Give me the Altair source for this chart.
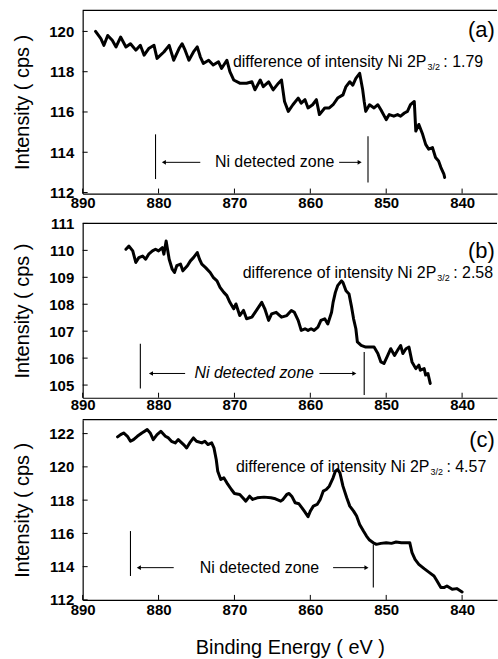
import altair as alt
import pandas as pd

FONT = "Liberation Sans"

# Binding energy axis (eV), drawn high -> low
X_TICKS = [890, 880, 870, 860, 850, 840]
X_RANGE = [835.4, 890]

# (a) spectrum
A_ENERGY = [888.3, 887.6, 887.2, 886.7, 886.1, 885.6, 885.0, 884.3, 883.7, 883.0,
            882.4, 881.9, 881.3, 880.6, 880.2, 879.3, 878.6, 878.0, 877.3, 876.9,
            876.5, 876.0, 875.4, 874.9, 874.5, 874.1, 873.4, 872.8, 872.1, 871.7,
            871.0, 870.6, 870.1, 869.3, 868.4, 867.7, 867.3, 866.6, 866.2, 865.5,
            864.9, 864.2, 863.8, 863.4, 862.9, 862.3, 861.6, 861.2, 860.7, 860.3,
            859.7, 859.2, 858.8, 858.1, 857.5, 857.0, 856.4, 855.7, 855.3, 854.8,
            854.4, 854.0, 853.5, 853.1, 852.9, 852.7, 852.2, 851.6, 851.1, 850.7,
            850.0, 849.6, 849.0, 848.5, 848.1, 847.6, 847.2, 846.8, 846.3, 846.1,
            845.7, 845.2, 844.8, 844.4, 843.9, 843.5, 843.1, 842.8, 842.4, 842.3]
A_INTENSITY = [120.0, 119.64, 119.31, 119.8, 119.56, 119.23, 119.72, 119.23, 119.39, 119.07,
               119.31, 118.82, 119.15, 119.31, 118.66, 118.98, 119.31, 118.57, 119.15, 119.39,
               119.07, 118.57, 118.98, 119.23, 118.74, 118.41, 118.57, 118.33, 118.49, 118.16,
               118.57, 118.0, 117.59, 117.43, 117.43, 117.5, 117.1, 117.59, 117.26, 117.5,
               117.1, 117.43, 117.59, 116.52, 116.03, 116.36, 116.69, 116.44, 116.61, 116.2,
               116.36, 116.61, 115.87, 116.2, 116.2, 116.36, 116.69, 116.85, 117.26, 117.5,
               117.33, 117.67, 117.92, 117.1, 116.52, 116.03, 116.36, 116.2, 116.36, 116.11,
               115.62, 115.87, 115.79, 115.87, 115.79, 115.95, 116.03, 116.36, 116.52, 115.05,
               115.38, 114.89, 114.39, 114.15, 114.23, 113.74, 113.57, 113.25, 112.92, 112.75]

# (b) spectrum
B_ENERGY = [884.3, 883.9, 883.4, 883.0, 882.6, 882.1, 881.7, 881.3, 880.8, 880.4,
            880.0, 879.5, 879.3, 879.0, 878.6, 878.2, 877.9, 877.6, 877.1, 876.8,
            876.2, 875.8, 875.4, 874.9, 874.6, 874.3, 873.8, 873.2, 872.8, 872.3,
            871.9, 871.4, 871.0, 870.6, 870.1, 869.8, 869.3, 868.8, 868.4, 867.7,
            867.1, 866.4, 866.0, 865.5, 865.1, 864.5, 863.8, 863.1, 862.5, 862.1,
            861.6, 861.2, 860.7, 860.3, 859.9, 859.5, 859.0, 858.6, 858.1, 857.7,
            857.2, 857.0, 856.7, 856.4, 855.9, 855.7, 855.3, 854.9, 854.6, 854.3,
            854.0, 853.8, 853.3, 852.7, 852.0, 851.6, 851.1, 850.7, 850.3, 849.8,
            849.4, 848.9, 848.5, 848.1, 847.8, 847.4, 847.0, 846.6, 846.1, 845.7,
            845.5, 845.0, 844.8, 844.5, 844.2]
B_INTENSITY = [110.04, 110.16, 109.98, 109.55, 109.73, 109.79, 109.67, 109.86, 109.98, 110.04,
               109.98, 110.1, 109.86, 110.35, 109.67, 109.3, 109.18, 109.43, 109.49, 109.24,
               109.43, 109.61, 109.73, 109.92, 109.67, 109.49, 109.36, 109.18, 109.0, 108.87,
               108.63, 108.44, 108.32, 108.07, 107.83, 108.01, 107.58, 107.77, 107.46, 107.52,
               107.77, 108.07, 107.83, 107.4, 107.64, 107.7, 107.52, 107.58, 107.77, 107.7,
               107.4, 107.03, 107.09, 107.03, 107.09, 107.03, 107.15, 107.4, 107.46, 107.27,
               107.7, 108.07, 108.44, 108.69, 108.87, 108.81, 108.5, 108.38, 107.95, 107.46,
               107.09, 106.6, 106.47, 106.41, 106.41, 106.41, 106.17, 105.86, 105.8, 106.1,
               106.35, 106.1, 106.29, 106.47, 106.17, 106.35, 106.41, 105.86, 105.61, 105.74,
               105.55, 105.61, 105.37, 105.43, 105.06]

# (c) spectrum
C_ENERGY = [885.4, 885.0, 884.6, 884.1, 883.7, 883.3, 882.8, 882.2, 881.5, 881.1,
            880.7, 880.2, 879.7, 879.1, 878.7, 878.3, 877.8, 877.4, 876.7, 876.3,
            875.9, 875.4, 875.0, 874.3, 873.9, 873.5, 873.0, 872.7, 872.4, 872.2,
            871.8, 871.4, 871.0, 870.4, 870.0, 869.3, 868.9, 868.5, 868.0, 867.6,
            867.0, 866.1, 865.2, 864.6, 863.9, 863.6, 863.1, 862.8, 862.4, 862.0,
            861.5, 861.1, 860.7, 860.3, 860.0, 859.6, 859.1, 858.7, 858.3, 857.9,
            857.5, 857.0, 856.7, 856.4, 856.1, 855.7, 855.2, 854.8, 854.3, 853.9,
            853.5, 853.0, 852.6, 852.2, 851.7, 851.3, 850.7, 850.0, 849.3, 848.7,
            848.0, 847.4, 846.9, 846.6, 846.2, 845.7, 845.0, 844.3, 843.7, 843.3,
            842.8, 842.4, 842.0, 841.3, 840.7, 840.0]
C_INTENSITY = [121.8, 121.94, 122.04, 121.84, 121.54, 121.64, 121.84, 122.04, 122.24, 122.04,
               121.64, 121.94, 122.14, 121.84, 121.74, 121.54, 121.44, 121.64, 121.34, 121.14,
               121.44, 121.74, 121.54, 121.44, 121.54, 121.34, 121.44, 121.14, 120.44, 119.74,
               119.24, 119.34, 119.04, 118.64, 118.4, 118.34, 118.14, 117.94, 118.24, 118.04,
               118.14, 118.18, 118.14, 118.08, 117.94, 118.04, 118.34, 118.4, 118.2, 117.84,
               117.78, 117.54, 117.28, 117.0, 117.34, 117.64, 117.74, 118.04, 118.54, 118.64,
               118.84, 119.34, 119.74, 119.84, 119.64, 118.84, 118.14, 117.64, 117.34, 117.04,
               116.54, 116.14, 115.84, 115.6, 115.44, 115.34, 115.4, 115.44, 115.4, 115.48,
               115.44, 115.44, 115.44, 114.84, 114.44, 114.14, 113.88, 113.64, 113.44, 113.14,
               112.74, 112.74, 112.84, 112.64, 112.68, 112.48]

A_YTICKS = [112, 114, 116, 118, 120]
B_YTICKS = [105, 106, 107, 108, 109, 110, 111]
C_YTICKS = [112, 114, 116, 118, 120, 122]

# Peak-height differences quoted in each panel
DIFFERENCES = ["1.79", "2.58", "4.57"]
TAGS = ["(a)", "(b)", "(c)"]

PANELS = [
    dict(energy=A_ENERGY, intensity=A_INTENSITY, yticks=A_YTICKS, ydomain=[111.95, 121.05],
         height=184, xlabel_pad=2, xtitle="",
         zone_edges=[880.4, 852.4], zone_lo=[112.67, 112.5], zone_hi=[114.89, 114.8],
         zone_y=113.5, zone_mid=864.7, arrow_l=[879.3, 874.5], arrow_r=[856.2, 853.5],
         italic=False, diff_x=844.7, diff_y=118.5, tag_y=120.05),
    dict(energy=B_ENERGY, intensity=B_INTENSITY, yticks=B_YTICKS, ydomain=[104.53, 111.0],
         height=175, xlabel_pad=0, xtitle="",
         zone_edges=[882.4, 852.9], zone_lo=[104.87, 104.63], zone_hi=[106.53, 106.23],
         zone_y=105.43, zone_mid=867.4, arrow_l=[881.0, 876.5], arrow_r=[858.8, 854.2],
         italic=True, diff_x=843.4, diff_y=109.15, tag_y=109.98),
    dict(energy=C_ENERGY, intensity=C_INTENSITY, yticks=C_YTICKS, ydomain=[112.0, 122.84],
         height=181, xlabel_pad=3, xtitle="Binding Energy ( eV )",
         zone_edges=[883.7, 851.7], zone_lo=[113.44, 112.74], zone_hi=[116.14, 115.34],
         zone_y=113.94, zone_mid=866.7, arrow_l=[882.6, 878.0], arrow_r=[857.0, 852.6],
         italic=False, diff_x=844.3, diff_y=120.0, tag_y=121.64),
]

WIDTH = 416


def build_panel(p, tag, diff):
    h = p["height"]
    xs = alt.Scale(domain=X_RANGE, reverse=True, nice=False, zero=False)
    ys = alt.Scale(domain=p["ydomain"], nice=False, zero=False)

    xaxis = alt.Axis(values=X_TICKS, labelPadding=p["xlabel_pad"], labelFlush=False,
                     format="d", titlePadding=20, title=p["xtitle"])
    yaxis = alt.Axis(values=p["yticks"], format="d", labelPadding=9, titlePadding=16,
                     title="Intensity ( cps )")

    # every layer shares the same scales and axis definitions
    def X(field):
        return alt.X(field, type="quantitative", scale=xs, axis=xaxis)

    def Y(field):
        return alt.Y(field, type="quantitative", scale=ys, axis=yaxis)

    spec = pd.DataFrame([{"E": e, "I": i, "k": k}
                         for k, (e, i) in enumerate(zip(p["energy"], p["intensity"]))])
    curve = alt.Chart(spec).mark_line(
        color="black", strokeWidth=3, strokeJoin="round", strokeCap="round"
    ).encode(x=X("E"), y=Y("I"), order="k:Q")

    # inward tick marks on the bottom and left edges, plus the top frame line
    xticks = alt.Chart(pd.DataFrame({"E": X_TICKS})).mark_rule(color="black", strokeWidth=1).encode(
        x=X("E"), y=alt.value(h), y2=alt.value(h - 5))
    yticks = alt.Chart(pd.DataFrame({"I": p["yticks"]})).mark_rule(color="black", strokeWidth=1).encode(
        y=Y("I"), x=alt.value(0), x2=alt.value(5))
    frame_top = alt.Chart(pd.DataFrame({"v": [0]})).mark_rule(color="black", strokeWidth=1.2).encode(
        x=alt.value(0), x2=alt.value(WIDTH), y=alt.value(0))

    # detected-zone markers
    edges = pd.DataFrame({"E": p["zone_edges"], "lo": p["zone_lo"], "hi": p["zone_hi"]})
    zone_lines = alt.Chart(edges).mark_rule(color="black", strokeWidth=1.1).encode(
        x=X("E"), y=Y("lo"), y2="hi:Q")

    shafts = pd.DataFrame({"E1": [p["arrow_l"][0], p["arrow_r"][0]],
                           "E2": [p["arrow_l"][1], p["arrow_r"][1]],
                           "I": [p["zone_y"], p["zone_y"]]})
    arrows = alt.Chart(shafts).mark_rule(color="black", strokeWidth=1).encode(
        x=X("E1"), x2="E2:Q", y=Y("I"))
    heads = pd.DataFrame({"E": [p["arrow_l"][0], p["arrow_r"][1]],
                          "I": [p["zone_y"], p["zone_y"]],
                          "s": ["triangle-left", "triangle-right"]})
    arrow_heads = alt.Chart(heads).mark_point(filled=True, color="black", opacity=1, size=22).encode(
        x=X("E"), y=Y("I"), shape=alt.Shape("s:N", scale=None, legend=None))

    zone_text = alt.Chart(pd.DataFrame({"E": [p["zone_mid"]], "I": [p["zone_y"]],
                                        "t": ["Ni detected zone"]})).mark_text(
        font=FONT, fontSize=16, color="black", align="center", baseline="middle",
        fontStyle="italic" if p["italic"] else "normal"
    ).encode(x=X("E"), y=Y("I"), text="t:N")

    anchor = pd.DataFrame({"E": [p["diff_x"]], "I": [p["diff_y"]],
                           "main": ["difference of intensity Ni 2P"], "sub": ["3/2"],
                           "tail": [": " + diff]})
    diff_main = alt.Chart(anchor).mark_text(
        font=FONT, fontSize=16, color="black", align="right", baseline="middle"
    ).encode(x=X("E"), y=Y("I"), text="main:N")
    diff_sub = alt.Chart(anchor).mark_text(
        font=FONT, fontSize=9, color="black", align="left", baseline="middle", dx=1, dy=5
    ).encode(x=X("E"), y=Y("I"), text="sub:N")
    diff_tail = alt.Chart(anchor).mark_text(
        font=FONT, fontSize=16, color="black", align="left", baseline="middle", dx=17
    ).encode(x=X("E"), y=Y("I"), text="tail:N")

    tag_mark = alt.Chart(pd.DataFrame({"E": [835.7], "I": [p["tag_y"]], "t": [tag]})).mark_text(
        font=FONT, fontSize=22, color="black", align="right", baseline="middle"
    ).encode(x=X("E"), y=Y("I"), text="t:N")

    return alt.layer(curve, xticks, yticks, frame_top, zone_lines, arrows, arrow_heads,
                     zone_text, diff_main, diff_sub, diff_tail, tag_mark
                     ).properties(width=WIDTH, height=h)


panels = [build_panel(p, t, d) for p, t, d in zip(PANELS, TAGS, DIFFERENCES)]

chart = alt.vconcat(*panels, spacing=6).properties(
    padding={"left": 12, "top": 8, "right": 0, "bottom": 0}
).configure_view(stroke=None).configure_axis(
    domainColor="black", domainWidth=1.2, grid=False, ticks=False,
    labelFont=FONT, labelFontSize=15, labelFontWeight="bold", labelColor="black",
    titleFont=FONT, titleFontSize=20, titleFontWeight="normal", titleColor="black",
)

chart.save("out.html", embed_options={"renderer": "svg", "actions": False})
